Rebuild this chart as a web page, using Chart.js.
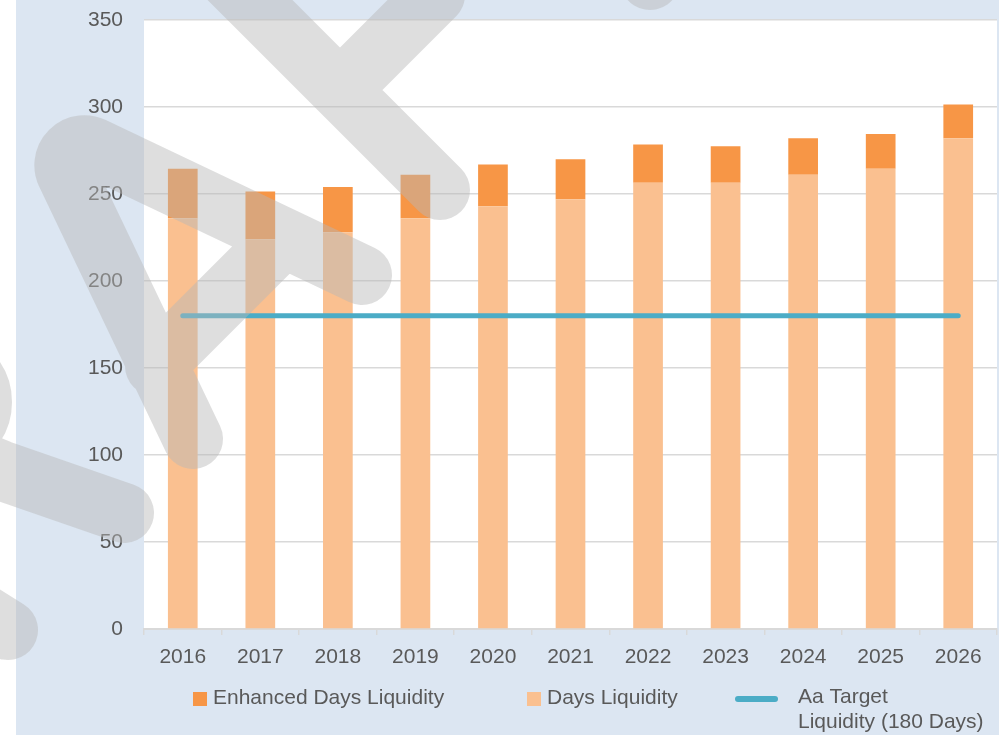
<!DOCTYPE html>
<html>
<head>
<meta charset="utf-8">
<script src="https://cdn.jsdelivr.net/npm/chart.js@4.4.1/dist/chart.umd.min.js"></script>
<style>
    html, body { margin: 0; padding: 0; background: #fff; }
    #grafico-liquidez { display: block; }
</style>
</head>
<body>
<canvas id="grafico-liquidez" width="999" height="735"></canvas>
<script>
const years = ['2016', '2017', '2018', '2019', '2020', '2021', '2022', '2023', '2024', '2025', '2026'];
const daysLiquidity = [236, 224, 228, 236, 243, 247, 256.5, 256.5, 261, 264.5, 282];
const enhancedLiquidity = [28.5, 27.5, 26, 25, 24, 23, 22, 21, 21, 20, 19.5];
const targetLiquidity = [180, 180, 180, 180, 180, 180, 180, 180, 180, 180, 180];
const yTicks = [0, 50, 100, 150, 200, 250, 300, 350];
const legendLabels = ['Enhanced Days Liquidity', 'Days Liquidity', ['Aa Target', 'Liquidity (180 Days)']];

const colorTexto = '#595959';
const fuente = "'Liberation Sans', Arial, sans-serif";

// fondo azul, area del grafico en blanco
const fondoPlugin = {
    id: 'fondo',
    beforeDraw(chart) {
        const ctx = chart.ctx;
        const a = chart.chartArea;
        ctx.save();
        ctx.fillStyle = '#ffffff';
        ctx.fillRect(0, 0, chart.width, chart.height);
        ctx.fillStyle = '#dce6f2';
        ctx.fillRect(16, 0, chart.width - 16, chart.height);
        ctx.fillStyle = '#ffffff';
        ctx.fillRect(a.left, a.top, a.right - a.left, a.bottom - a.top);
        ctx.restore();
    }
};

// leyenda propia (la tercera etiqueta va en dos lineas) y marca de agua
const leyendaPlugin = {
    id: 'leyenda',
    afterDraw(chart) {
        const ctx = chart.ctx;
        const ds = chart.data.datasets;
        ctx.save();
        ctx.font = '21px ' + fuente;
        ctx.fillStyle = colorTexto;
        ctx.textBaseline = 'middle';
        ctx.textAlign = 'left';

        ctx.fillStyle = ds[2].backgroundColor;
        ctx.fillRect(193, 692, 14, 14);
        ctx.fillStyle = colorTexto;
        ctx.fillText(legendLabels[0], 213, 698);

        ctx.fillStyle = ds[1].backgroundColor;
        ctx.fillRect(527, 692, 14, 14);
        ctx.fillStyle = colorTexto;
        ctx.fillText(legendLabels[1], 547, 698);

        ctx.strokeStyle = ds[0].borderColor;
        ctx.lineWidth = 6;
        ctx.lineCap = 'round';
        ctx.beginPath();
        ctx.moveTo(738, 699);
        ctx.lineTo(775, 699);
        ctx.stroke();
        ctx.fillText(legendLabels[2][0], 798, 697);
        ctx.fillText(legendLabels[2][1], 798, 722);
        ctx.restore();

        // marca de agua gris
        ctx.save();
        ctx.globalAlpha = 0.46;
        ctx.strokeStyle = 'rgb(183,183,183)';
        ctx.lineWidth = 60;
        ctx.lineCap = 'round';
        ctx.lineJoin = 'round';
        ctx.beginPath();
        ctx.moveTo(200, -50); ctx.lineTo(440, 190);
        ctx.moveTo(435, -5); ctx.lineTo(350, 80);
        ctx.moveTo(700, -100); ctx.lineTo(650, -20);
        ctx.moveTo(362, 275); ctx.arcTo(42, 123, 193, 439, 20); ctx.lineTo(193, 439);
        ctx.moveTo(275, 246); ctx.lineTo(155, 366);
        ctx.moveTo(-60, 445); ctx.lineTo(0, 470); ctx.lineTo(124, 513);
        ctx.moveTo(-60, 360); ctx.arc(-60, 402, 42, -Math.PI / 2, Math.PI / 2);
        ctx.moveTo(-40, 600); ctx.lineTo(8, 630);
        ctx.stroke();
        ctx.restore();
    }
};

const ctx = document.getElementById('grafico-liquidez').getContext('2d');
new Chart(ctx, {
    type: 'bar',
    data: {
        labels: years,
        datasets: [
            {
                type: 'line',
                label: legendLabels[2].join(' '),
                data: targetLiquidity,
                borderColor: '#4bacc6',
                borderWidth: 5,
                borderCapStyle: 'round',
                pointRadius: 0,
                fill: false,
                stack: 'objetivo',
                order: 0
            },
            {
                label: legendLabels[1],
                data: daysLiquidity,
                backgroundColor: '#fac090',
                stack: 'liquidez',
                order: 1,
                barPercentage: 0.383,
                categoryPercentage: 1
            },
            {
                label: legendLabels[0],
                data: enhancedLiquidity,
                backgroundColor: '#f79646',
                stack: 'liquidez',
                order: 1,
                barPercentage: 0.383,
                categoryPercentage: 1
            }
        ]
    },
    options: {
        responsive: false,
        animation: false,
        layout: { padding: { left: 0, right: 2, top: 20, bottom: 56 } },
        plugins: {
            legend: { display: false },
            tooltip: { enabled: false }
        },
        scales: {
            x: {
                stacked: true,
                grid: { offset: true, drawOnChartArea: false, drawTicks: true, tickLength: 6, color: '#d9d9d9', lineWidth: 1.5 },
                border: { color: '#d9d9d9', width: 2 },
                ticks: { color: colorTexto, font: { family: fuente, size: 21 }, padding: 10, maxRotation: 0 },
                afterFit(scale) { scale.height = 50; }
            },
            y: {
                stacked: true,
                min: 0,
                max: 350,
                grid: { color: '#d9d9d9', lineWidth: 1.5, drawTicks: false },
                border: { display: false },
                ticks: { color: colorTexto, font: { family: fuente, size: 21 }, padding: 21 },
                afterBuildTicks(scale) { scale.ticks = yTicks.map(v => ({ value: v })); },
                afterFit(scale) {
                    scale.width = 144;
                    scale.paddingTop = 0;
                    scale.paddingBottom = 0;
                }
            }
        }
    },
    plugins: [fondoPlugin, leyendaPlugin]
});
</script>
</body>
</html>
